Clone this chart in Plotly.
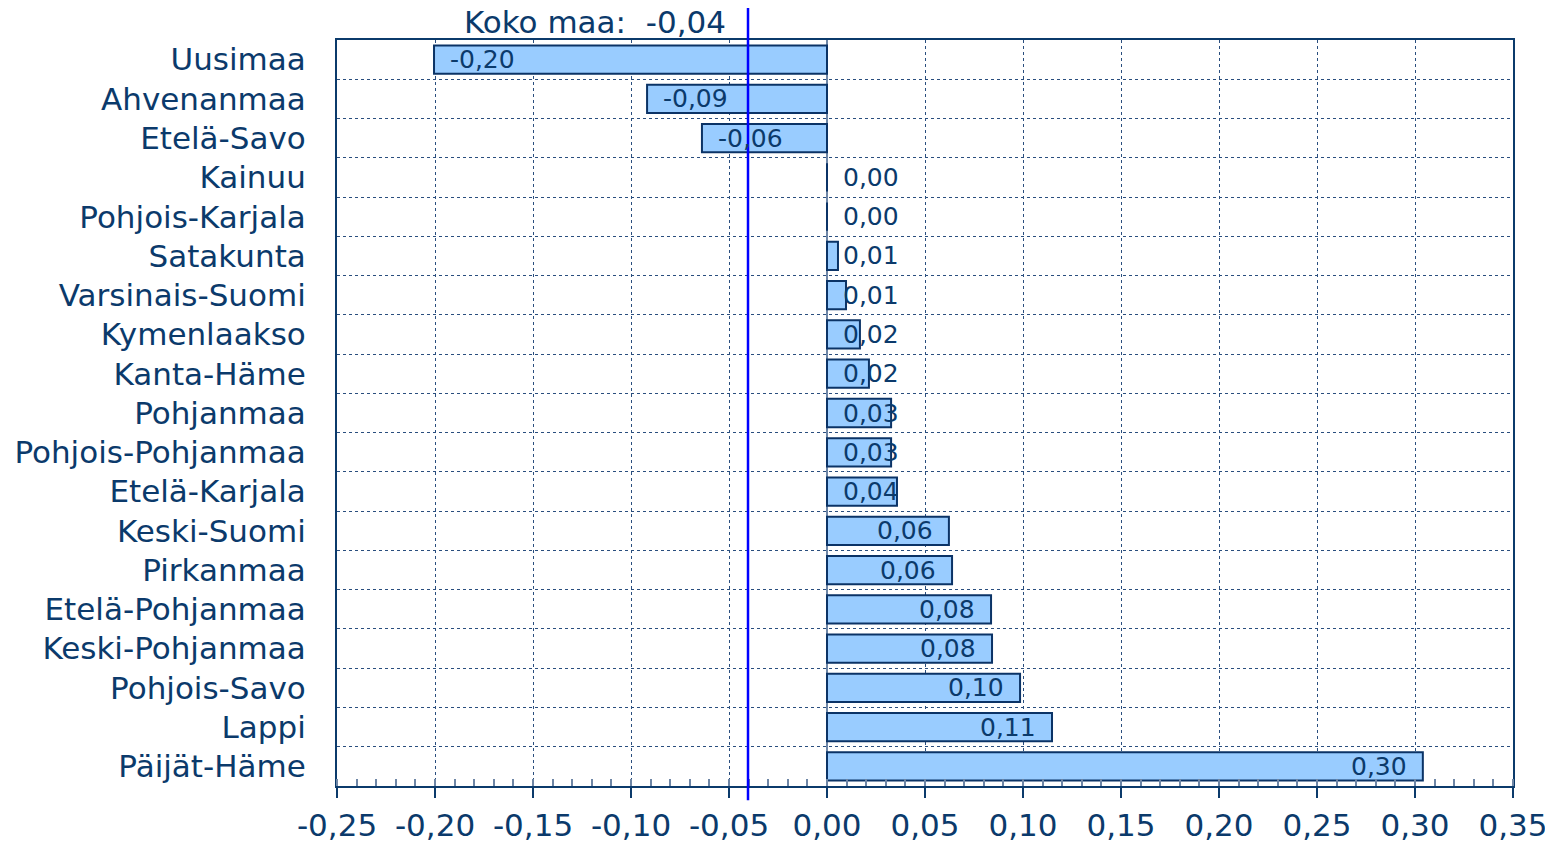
import plotly.graph_objects as go

regions = ["Uusimaa", "Ahvenanmaa", "Etelä-Savo", "Kainuu", "Pohjois-Karjala",
           "Satakunta", "Varsinais-Suomi", "Kymenlaakso", "Kanta-Häme", "Pohjanmaa",
           "Pohjois-Pohjanmaa", "Etelä-Karjala", "Keski-Suomi", "Pirkanmaa",
           "Etelä-Pohjanmaa", "Keski-Pohjanmaa", "Pohjois-Savo", "Lappi", "Päijät-Häme"]
values = [-0.2005, -0.0918, -0.0638, 0.0, 0.0,
          0.0056, 0.0097, 0.0168, 0.0214, 0.0327,
          0.0327, 0.0357, 0.0622, 0.0638,
          0.0837, 0.0842, 0.0985, 0.1148, 0.304]
koko_maa = -0.0403
koko_maa_label = "Koko maa:\u00a0\u00a0-0,04"
tick_vals = [-0.25, -0.20, -0.15, -0.10, -0.05, 0.0, 0.05, 0.10, 0.15, 0.20, 0.25, 0.30, 0.35]
tick_text = ["-0,25", "-0,20", "-0,15", "-0,10", "-0,05", "0,00", "0,05", "0,10",
             "0,15", "0,20", "0,25", "0,30", "0,35"]

NAVY = "#0B3A6B"
FONT = "DejaVu Sans"

def fmt(v):
    s = f"{v:.2f}".replace(".", ",")
    return "0,00" if s == "-0,00" else s

fig = go.Figure()
fig.add_trace(go.Bar(
    x=values, y=regions, orientation="h", width=0.72,
    marker=dict(color="#99CCFF", line=dict(color="#0B3366", width=2)),
    hoverinfo="skip",
))

LBL = dict(family=FONT, size=25, color=NAVY)
annotations = []
for r, v in zip(regions, values):
    if v < 0:
        annotations.append(dict(x=v, y=r, xref="x", yref="y", text=fmt(v),
                                xanchor="left", xshift=14, showarrow=False, font=LBL))
    elif v < 0.044:
        annotations.append(dict(x=0, y=r, xref="x", yref="y", text=fmt(v),
                                xanchor="left", xshift=14, showarrow=False, font=LBL))
    else:
        annotations.append(dict(x=v, y=r, xref="x", yref="y", text=fmt(v),
                                xanchor="right", xshift=-14, showarrow=False, font=LBL))

annotations.append(dict(x=koko_maa, y=1.024, xref="x", yref="paper", text=koko_maa_label,
                        xanchor="right", yanchor="middle", xshift=-20, showarrow=False,
                        font=dict(family=FONT, size=31, color=NAVY)))

fig.update_layout(
    width=1545, height=837,
    margin=dict(l=329, r=40, t=32, b=59),
    plot_bgcolor="white", paper_bgcolor="white",
    showlegend=False,
    annotations=annotations,
    shapes=[dict(type="line", xref="x", yref="paper", x0=koko_maa, x1=koko_maa,
                 y0=-0.019, y1=1.043, line=dict(color="#0000FF", width=2.5), layer="above")],
)

fig.update_xaxes(
    automargin=False,
    range=[-0.25, 0.35], tickvals=tick_vals, ticktext=tick_text,
    tickfont=dict(family=FONT, size=31, color=NAVY),
    ticks="outside", ticklen=10, tickwidth=1.5, tickcolor=NAVY,
    showline=True, linecolor=NAVY, linewidth=2, mirror=True,
    showgrid=True, gridcolor="#2A4E7E", gridwidth=1, griddash="dot",
    zeroline=True, zerolinecolor="#6E86A6", zerolinewidth=2,
    minor=dict(dtick=0.01, ticks="inside", ticklen=7, tickcolor="#6E86A6", tickwidth=1.5, showgrid=False),
    ticklabelstandoff=1,
)
fig.update_yaxes(
    automargin=False,
    type="category", autorange="reversed", tickson="boundaries",
    tickfont=dict(family=FONT, size=31, color=NAVY),
    ticks="", showline=True, linecolor=NAVY, linewidth=2, mirror=True,
    showgrid=True, gridcolor="#2A4E7E", gridwidth=1, griddash="dot",
    ticklabelstandoff=23,
)

fig.write_html("out.html")
